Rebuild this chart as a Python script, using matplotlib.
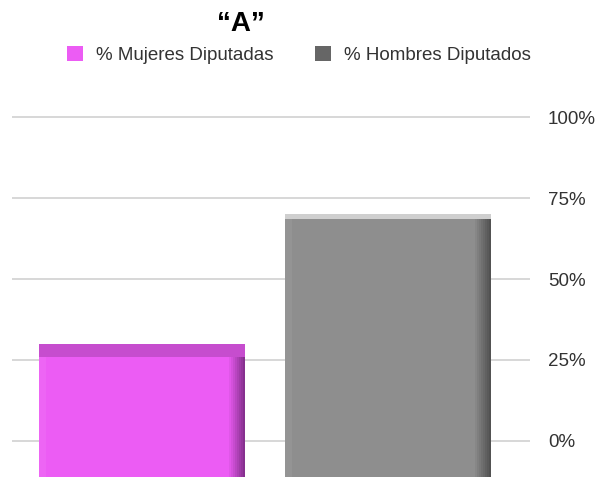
import numpy as np
import matplotlib
matplotlib.use("Agg")
import matplotlib.pyplot as plt
from matplotlib.patches import Patch

# data
categories = ["% Mujeres Diputadas", "% Hombres Diputados"]
values = [30, 70]
tick_values = [0, 25, 50, 75, 100]
tick_labels = ["0%", "25%", "50%", "75%", "100%"]

front_colors = ["#ec5cf4", "#8e8e8e"]
top_colors = ["#c64dce", "#cfcfcf"]
top_depth = [4, 1.5]
side_colors = ["#5e1f66", "#3a3a3a"]
legend_colors = ["#ec5cf4", "#666666"]

plt.rcParams["font.family"] = ["Liberation Sans", "DejaVu Sans"]

fig = plt.figure(figsize=(5.96, 4.83), dpi=100)
ax = fig.add_axes([12 / 596, 0.0, (530 - 12) / 596, 1 - 100 / 483])

base = -11  # bars sit a little under the 0 line (3D look)
x = np.arange(len(values))
width = 0.84

for yv in tick_values:
    ax.axhline(yv, color="#d4d4d4", lw=1.3, zorder=0)

ax.bar(x, [v - base for v in values], width=width, bottom=base,
       color=front_colors, zorder=2)

# right side shading, a few strips getting darker to the edge
n = 8
strip = 0.065 / n
for k in range(n):
    xs = x + width / 2 - 0.065 + strip * (k + 0.5)
    ax.bar(xs, [v - base - d for v, d in zip(values, top_depth)],
           width=strip * 1.05, bottom=base, color=side_colors,
           alpha=0.08 + 0.09 * k, zorder=3, linewidth=0)
# light strip on left edge
ax.bar(x - width / 2 + 0.015, [v - base - d for v, d in zip(values, top_depth)],
       width=0.03, bottom=base, color="white", alpha=0.06, zorder=3)
# top face
ax.bar(x, top_depth, width=width,
       bottom=[v - d for v, d in zip(values, top_depth)],
       color=top_colors, zorder=4)

ax.set_xlim(-0.528, 1.577)
ax.set_ylim(-13, 105.3)
ax.yaxis.tick_right()
ax.set_yticks(tick_values)
ax.set_yticklabels(tick_labels)
ax.tick_params(axis="y", length=0, pad=13, labelsize=13.5, labelcolor="#333333")
ax.set_xticks([])
for s in ax.spines.values():
    s.set_visible(False)

fig.text(0.404, 1 - 24 / 483, "\u201cA\u201d", ha="center", va="center",
         fontsize=20, fontweight="bold")

handles = [Patch(facecolor=c, edgecolor="none") for c in legend_colors]
fig.legend(handles, categories, ncol=2, loc="center",
           bbox_to_anchor=(0.502, 1 - 55 / 483), frameon=False,
           fontsize=13.5, labelcolor="#333333", handlelength=0.85,
           handleheight=0.85, handletextpad=0.7, columnspacing=2.2)

fig.savefig("out.png", dpi=100)
